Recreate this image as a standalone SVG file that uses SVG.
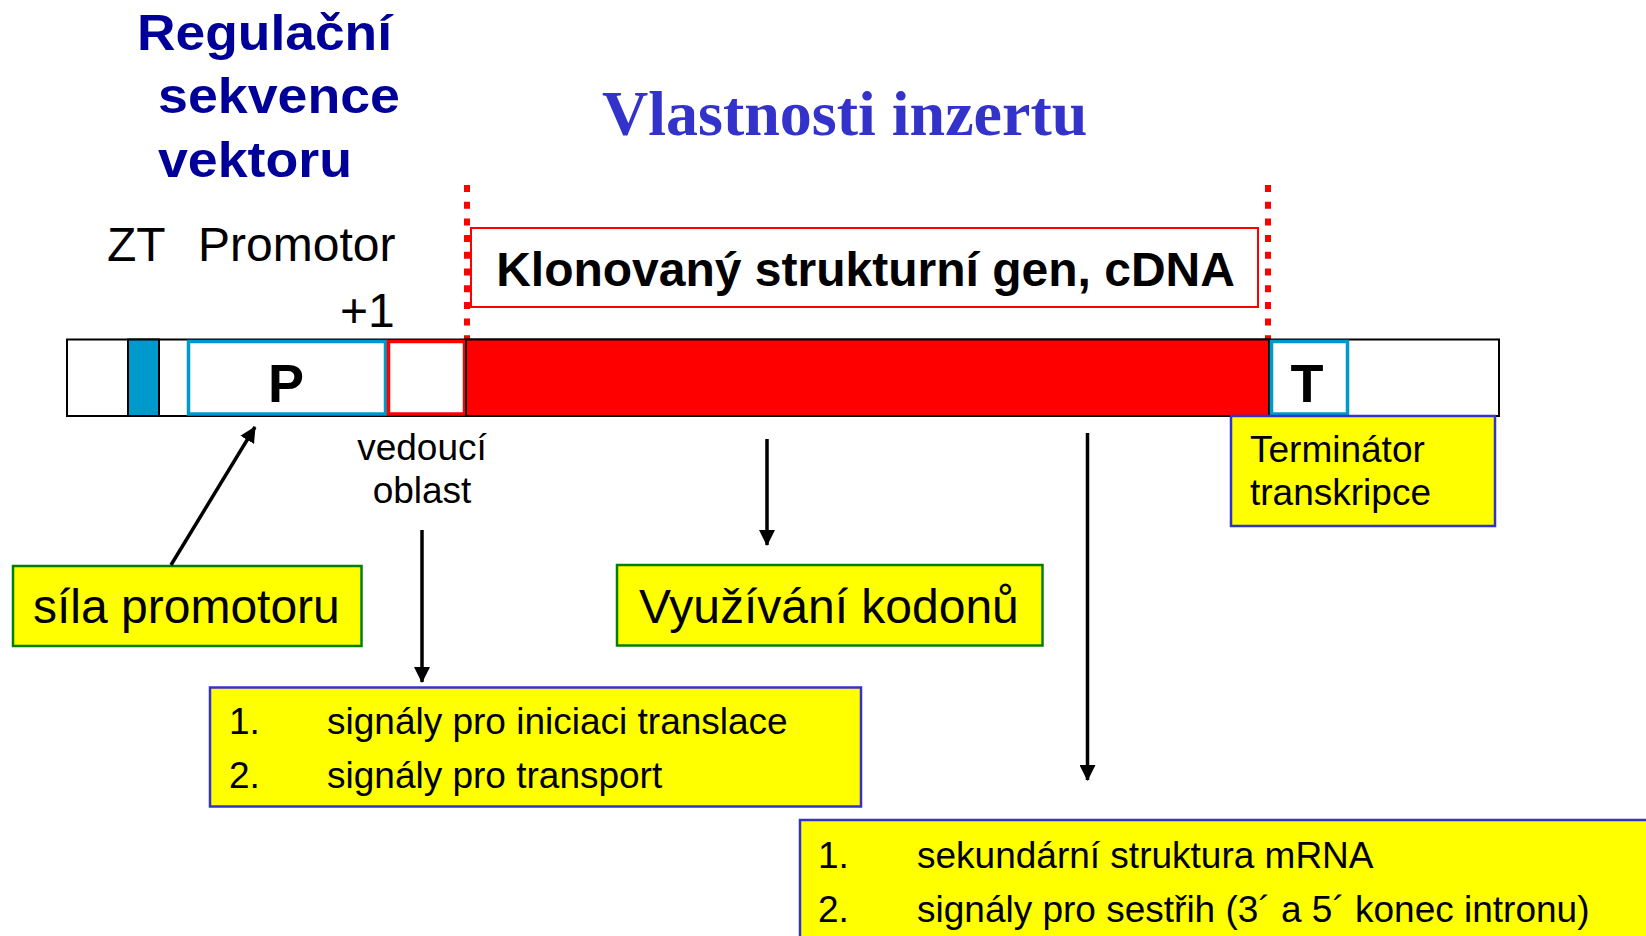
<svg xmlns="http://www.w3.org/2000/svg" width="1646" height="936" viewBox="0 0 1646 936">
<style>
text{font-family:"Liberation Sans",Arial,sans-serif;fill:#000}
.ttl{font-weight:bold;font-size:50px;fill:#000099}
.ttl2{font-family:"Liberation Serif","Times New Roman",serif;font-weight:bold;font-size:64px;fill:#3333CC}
.lbl{font-size:48px}
.big{font-weight:bold;font-size:54px}
.sm{font-size:37px}
.yb{fill:#FFFF00;stroke:#3333CC;stroke-width:2.5}
.yg{fill:#FFFF00;stroke:#008000;stroke-width:2.5}
.conn line{stroke:#000;stroke-width:3.5}
.dot{stroke:#FF0000;stroke-width:6;stroke-dasharray:7 9.7}
</style>
<defs>
<marker id="ah" markerUnits="userSpaceOnUse" markerWidth="16" markerHeight="16" viewBox="0 0 16 16" refX="15" refY="8" orient="auto">
<path d="M0,0 L16,8 L0,16 Z" fill="#000"/>
</marker>
</defs>
<rect width="1646" height="936" fill="#fff"/>

<g id="title-regulacni">
<text class="ttl" x="137" y="50" textLength="255" lengthAdjust="spacingAndGlyphs">Regulační</text>
<text class="ttl" x="158" y="113" textLength="242" lengthAdjust="spacingAndGlyphs">sekvence</text>
<text class="ttl" x="158" y="177" textLength="194" lengthAdjust="spacingAndGlyphs">vektoru</text>
</g>
<g id="title-vlastnosti">
<text class="ttl2" x="602" y="135">Vlastnosti inzertu</text>
</g>

<g id="labels">
<text class="lbl" x="107" y="261">ZT</text>
<text class="lbl" x="198" y="261">Promotor</text>
<text class="lbl" x="340" y="327">+1</text>
</g>

<g id="dotted-lines">
<line class="dot" x1="467" y1="185" x2="467" y2="339"/>
<line class="dot" x1="1268" y1="185" x2="1268" y2="339"/>
</g>

<g id="gene-box">
<rect x="471" y="228" width="787" height="79" fill="#fff" stroke="#FF0000" stroke-width="2"/>
<text x="865.5" y="286" text-anchor="middle" font-weight="bold" font-size="48">Klonovaný strukturní gen, cDNA</text>
</g>

<g id="bar">
<rect x="67" y="339.5" width="1432" height="76.5" fill="#fff" stroke="#000" stroke-width="2"/>
<rect x="128" y="339.5" width="31" height="76.5" fill="#0099CC" stroke="#000" stroke-width="2"/>
</g>
<g id="node-P">
<rect x="188.5" y="341.5" width="197" height="72.5" fill="#fff" stroke="#0099CC" stroke-width="3.5"/>
<text class="big" x="286" y="402" text-anchor="middle">P</text>
</g>
<g id="node-leader">
<rect x="388.5" y="341.5" width="76" height="72.5" fill="#fff" stroke="#FF0000" stroke-width="3.5"/>
</g>
<g id="node-gene">
<rect x="466" y="339.5" width="803" height="76.5" fill="#FF0000" stroke="#000" stroke-width="2"/>
</g>
<g id="node-T">
<rect x="1271.5" y="341.5" width="76" height="72.5" fill="#fff" stroke="#0099CC" stroke-width="3.5"/>
<text class="big" x="1307" y="402" text-anchor="middle">T</text>
</g>

<g id="node-terminator">
<rect class="yb" x="1231" y="416" width="264" height="110"/>
<text class="sm" x="1250" y="462">Terminátor</text>
<text class="sm" x="1250" y="505">transkripce</text>
</g>

<g id="node-vedouci">
<text class="sm" x="422" y="460" text-anchor="middle">vedoucí</text>
<text class="sm" x="422" y="503" text-anchor="middle">oblast</text>
</g>

<g id="node-sila">
<rect class="yg" x="13" y="566" width="348.5" height="80"/>
<text x="33" y="623" font-size="48">síla promotoru</text>
</g>

<g id="node-kodony">
<rect class="yg" x="617" y="565" width="425.5" height="80.5"/>
<text x="639" y="623" font-size="48">Využívání kodonů</text>
</g>

<g id="node-signaly1">
<rect class="yb" x="210" y="687.5" width="651" height="119"/>
<text class="sm" x="229" y="734">1.</text>
<text class="sm" x="327" y="734">signály pro iniciaci translace</text>
<text class="sm" x="229" y="788">2.</text>
<text class="sm" x="327" y="788">signály pro transport</text>
</g>

<g id="node-signaly2">
<rect class="yb" x="800" y="820" width="870" height="140"/>
<text class="sm" x="818" y="868">1.</text>
<text class="sm" x="917" y="868">sekundární struktura mRNA</text>
<text class="sm" x="818" y="922">2.</text>
<text class="sm" x="917" y="922">signály pro sestřih (3´ a 5´ konec intronu)</text>
</g>

<g id="connectors" class="conn">
<line x1="171" y1="565" x2="255" y2="427" marker-end="url(#ah)"/>
<line x1="422" y1="530" x2="422" y2="682" marker-end="url(#ah)"/>
<line x1="767" y1="439" x2="767" y2="545" marker-end="url(#ah)"/>
<line x1="1087.5" y1="433" x2="1087.5" y2="780" marker-end="url(#ah)"/>
</g>
</svg>
